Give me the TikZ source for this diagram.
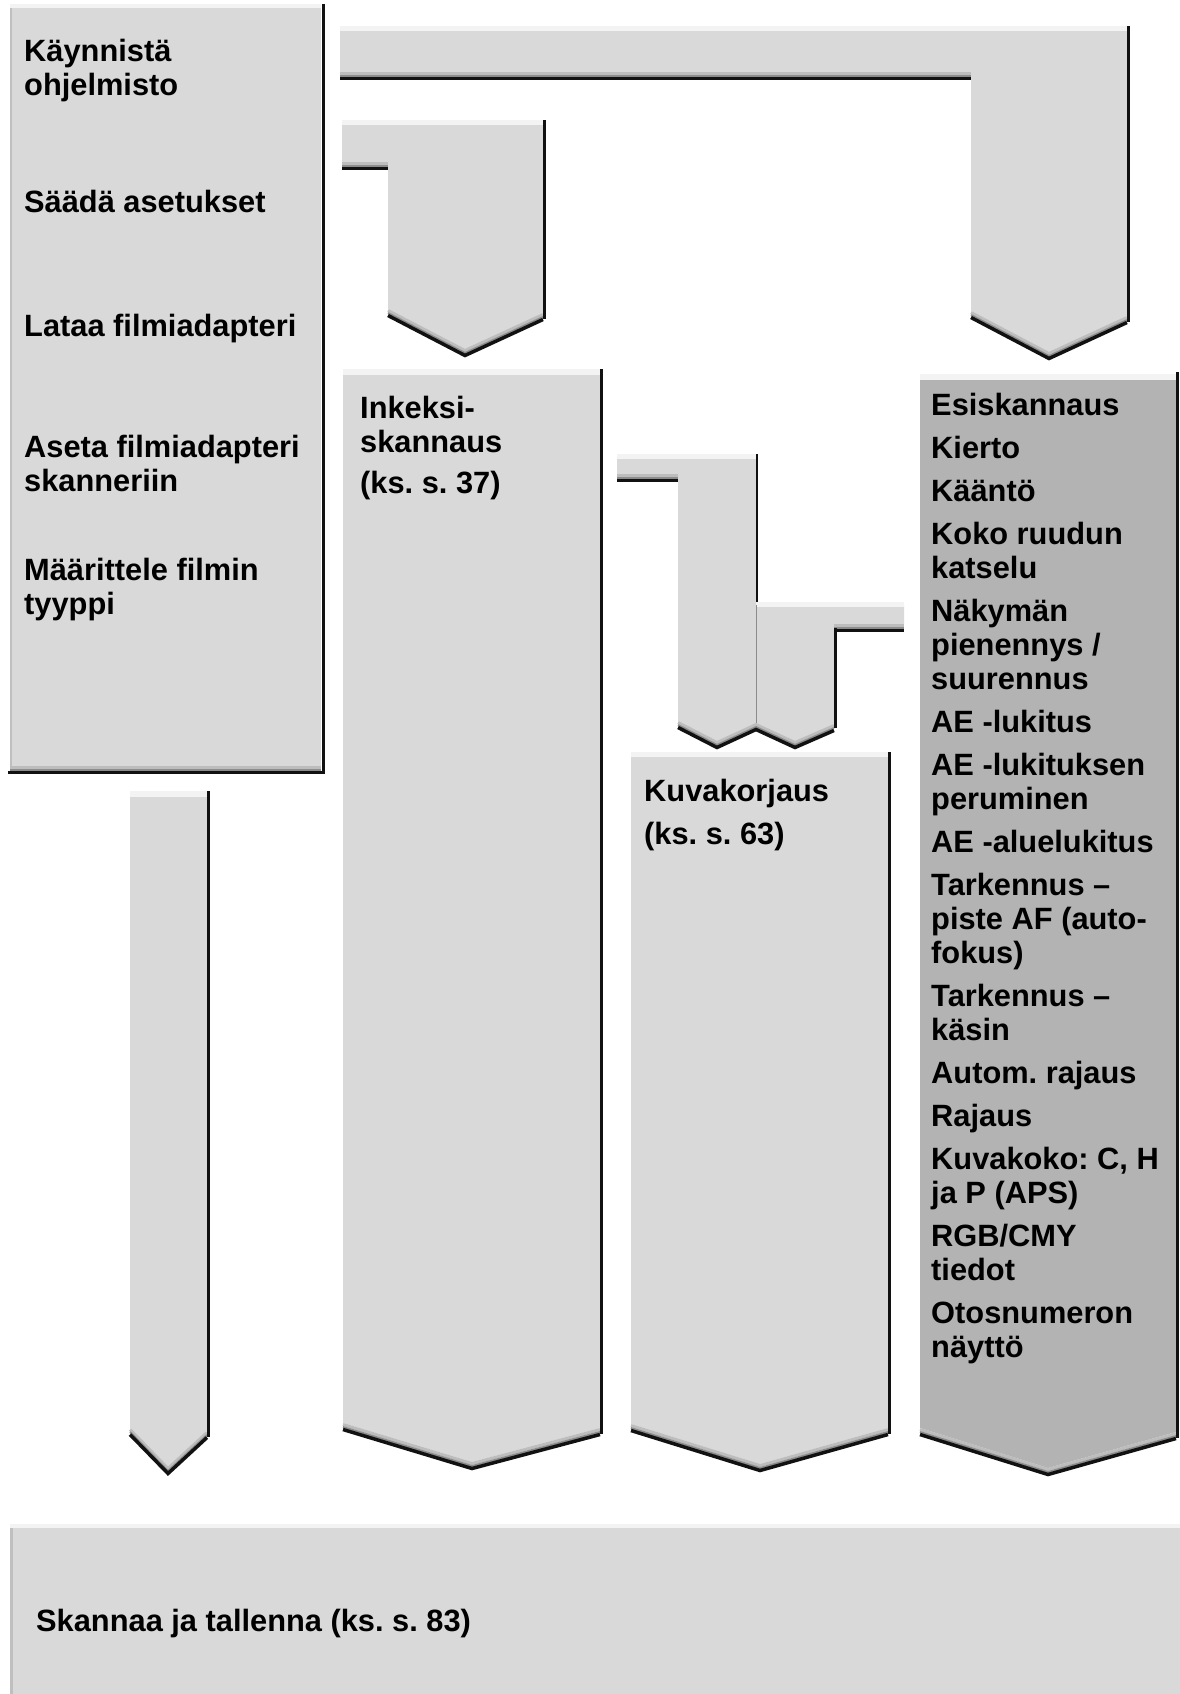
\documentclass[tikz,border=0pt]{standalone}
\usepackage{fontspec}
\setmainfont{Liberation Sans}
\definecolor{boxgray}{HTML}{D9D9D9}
\definecolor{darkbox}{HTML}{B3B3B3}
\definecolor{hiA}{HTML}{F3F3F3}
\definecolor{bevA}{HTML}{BDBDBD}
\definecolor{bevB}{HTML}{8C8C8C}
\definecolor{edgeblk}{HTML}{111111}
\definecolor{leftedge}{HTML}{BFBFBF}
\tikzset{
  panel/.style={fill=boxgray, draw=none},
  darkpanel/.style={fill=darkbox, draw=none},
  hitop/.style={fill=hiA, draw=none},
  bevlight/.style={draw=bevA, line width=3pt},
  bevdark/.style={draw=bevB, line width=2pt},
  shadowline/.style={draw=edgeblk, line width=3.5pt},
  rightedge/.style={draw=edgeblk, line width=3pt},
  label/.style={font=\fontsize{30.8}{34}\selectfont\bfseries\frenchspacing, anchor=base west, inner sep=0pt},
}
\newcommand\bevelpath[1]{%
  \draw[bevlight, shift={(0,1.5)}] #1;
  \draw[bevdark, shift={(0,4)}] #1;
  \draw[shadowline, shift={(0,6.5)}] #1;
}
\begin{document}
\begin{tikzpicture}[x=1pt,y=-1pt]
\useasboundingbox (0,0) rectangle (1180,1694);
\fill[white] (0,0) rectangle (1180,1694);

% left box
\fill[panel] (10,7) rectangle (321,767);
\fill[hitop] (10,4) rectangle (321,8);
\draw[leftedge, line width=2pt] (11,8) -- (11,767);
\draw[bevlight] (10,767.5) -- (321,767.5);
\draw[bevdark] (10,769.5) -- (321,769.5);
\draw[shadowline] (8,772.5) -- (324.5,772.5);
\draw[rightedge] (323,4) -- (323,774);

% top arrow
\fill[panel] (340,31) -- (1127,31) -- (1127,316) -- (1049,352) -- (971,311) -- (971,72) -- (340,72) -- cycle;
\fill[hitop] (340,26) rectangle (1127,31);
\bevelpath{(340,72) -- (971,72)}
\bevelpath{(971,311) -- (1049,352) -- (1127,316)}
\draw[rightedge] (1128.5,26) -- (1128.5,322);

% second arrow
\fill[panel] (342,124) -- (543,124) -- (543,313) -- (465,349) -- (388,309) -- (388,162) -- (342,162) -- cycle;
\fill[hitop] (342,120) rectangle (543,125);
\bevelpath{(342,162) -- (388,162)}
\bevelpath{(388,309) -- (465,349) -- (543,313)}
\draw[rightedge] (544.5,120) -- (544.5,319);

% Inkeksi column
\fill[panel] (343,372) -- (600,372) -- (600,1428) -- (472,1462) -- (343,1423) -- cycle;
\fill[hitop] (343,369) rectangle (600,375);
\bevelpath{(343,1423) -- (472,1462) -- (600,1428)}
\draw[rightedge] (601.5,369) -- (601.5,1434);

% Kuvakorjaus column
\fill[panel] (631,755) -- (888,755) -- (888,1428) -- (760,1464) -- (631,1424) -- cycle;
\fill[hitop] (631,752) rectangle (888,757);
\bevelpath{(631,1424) -- (760,1464) -- (888,1428)}
\draw[rightedge] (889.5,752) -- (889.5,1434);

% right dark column
\fill[darkpanel] (920,377) -- (1176,377) -- (1176,1432) -- (1048,1468) -- (920,1428) -- cycle;
\fill[hitop] (920,374) rectangle (1176,380);
\bevelpath{(920,1428) -- (1048,1468) -- (1176,1432)}
\draw[rightedge] (1177.5,372) -- (1177.5,1438);

% small left arrow
\fill[panel] (130,794) -- (207,794) -- (207,1431) -- (168,1467) -- (130,1428) -- cycle;
\fill[hitop] (130,791) rectangle (207,797);
\bevelpath{(130,1428) -- (168,1467) -- (207,1431)}
\draw[rightedge] (208.5,791) -- (208.5,1437);

% middle pair of arrows
\fill[panel] (617,457) -- (756,457) -- (756,723) -- (717,741) -- (678,721) -- (678,474) -- (617,474) -- cycle;
\fill[hitop] (617,454) rectangle (756,459);
\bevelpath{(617,474) -- (678,474)}
\draw[rightedge, line width=2.5pt] (757,454) -- (757,603);
\fill[panel] (756,605) -- (904,605) -- (904,624) -- (834,624) -- (834,724) -- (795,741) -- (756,723) -- cycle;
\fill[hitop] (756,602) rectangle (904,607);
\bevelpath{(834,624) -- (904,624)}
\bevelpath{(678,721) -- (717,741) -- (756,723) -- (795,741) -- (834,724)}
\draw[rightedge] (835,628) -- (835,728);
\draw[bevB, line width=1pt] (756.5,605) -- (756.5,723);

% bottom box
\fill[panel] (10,1528) rectangle (1180,1694);
\fill[hitop] (10,1524) rectangle (1180,1528);
\draw[leftedge, line width=3pt] (11.5,1528) -- (11.5,1694);

% texts
\node[label] (t1) at (24,62) {\parbox[t]{300pt}{\raggedright Käynnistä\\ohjelmisto}};
\node[label] (t2) at (24,212) {Säädä asetukset};
\node[label] (t3) at (24,336) {Lataa filmiadapteri};
\node[label] (t4) at (24,457) {\parbox[t]{300pt}{\raggedright Aseta filmiadapteri\\skanneriin}};
\node[label] (t5) at (24,580) {\parbox[t]{300pt}{\raggedright Määrittele filmin\\tyyppi}};
\node[label] (ink) at (360,418) {\parbox[t]{240pt}{\raggedright Inkeksi-\\skannaus\\[7pt](ks. s. 37)}};
\node[label] (kuva) at (644,801) {\parbox[t]{240pt}{\raggedright Kuvakorjaus\\[9pt](ks. s. 63)}};
\node[label] (list) at (931,415) {\parbox[t]{250pt}{\raggedright
Esiskannaus\\[9pt]
Kierto\\[9pt]
Kääntö\\[9pt]
Koko ruudun\\katselu\\[9pt]
Näkymän\\pienennys /\\suurennus\\[9pt]
AE -lukitus\\[9pt]
AE -lukituksen\\peruminen\\[9pt]
AE -aluelukitus\\[9pt]
Tarkennus –\\piste AF (auto-\\fokus)\\[9pt]
Tarkennus –\\käsin\\[9pt]
Autom. rajaus\\[9pt]
Rajaus\\[9pt]
Kuvakoko: C, H\\ja P (APS)\\[9pt]
RGB/CMY\\tiedot\\[9pt]
Otosnumeron\\näyttö}};
\node[label] (scan) at (36,1631) {Skannaa ja tallenna (ks. s. 83)};
\end{tikzpicture}
\end{document}
